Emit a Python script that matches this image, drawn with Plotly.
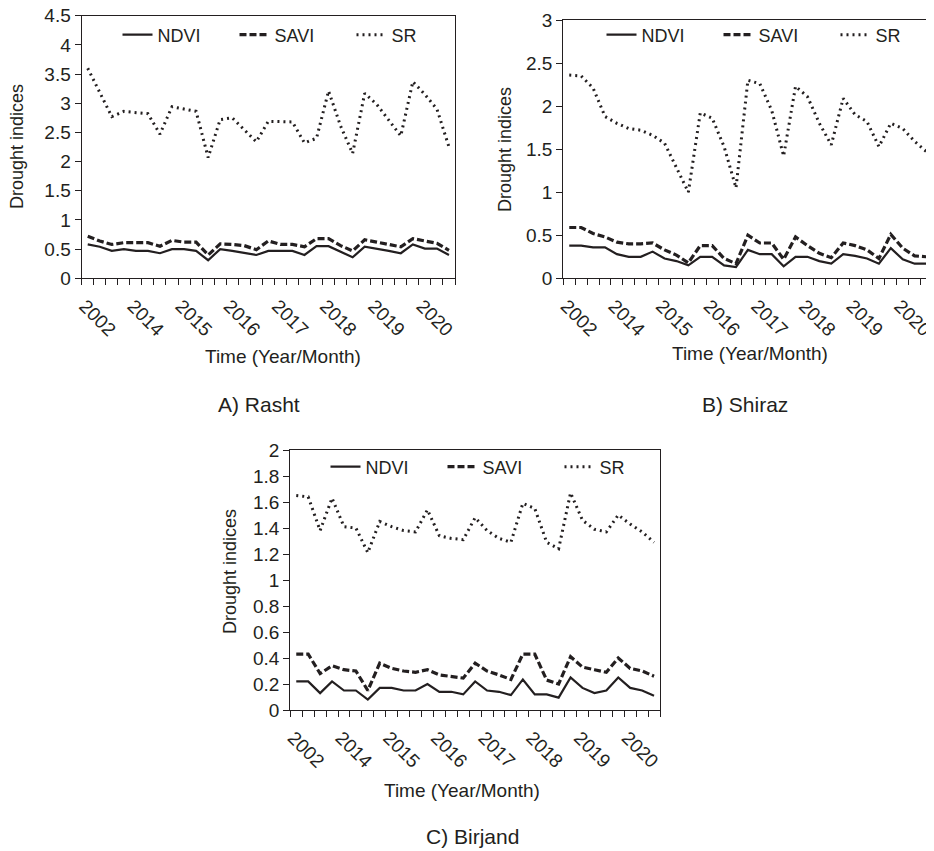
import plotly.graph_objects as go

# ---------------- data ----------------
year_labels = ["2002", "2014", "2015", "2016", "2017", "2018", "2019", "2020"]
label_positions = [0, 4, 8, 12, 16, 20, 24, 28]
time_index = list(range(31))

rasht_ndvi = [0.58, 0.54, 0.47, 0.50, 0.47, 0.47, 0.43, 0.50, 0.50, 0.47, 0.31,
              0.50, 0.47, 0.43, 0.40, 0.47, 0.47, 0.47, 0.40, 0.55, 0.55, 0.45,
              0.36, 0.54, 0.51, 0.47, 0.43, 0.58, 0.51, 0.51, 0.40]
rasht_savi = [0.72, 0.64, 0.58, 0.61, 0.61, 0.61, 0.55, 0.65, 0.62, 0.62, 0.40,
              0.59, 0.58, 0.56, 0.49, 0.64, 0.58, 0.58, 0.54, 0.68, 0.68, 0.56,
              0.47, 0.66, 0.62, 0.58, 0.54, 0.68, 0.64, 0.60, 0.48]
rasht_sr = [3.60, 3.19, 2.77, 2.86, 2.84, 2.82, 2.47, 2.94, 2.90, 2.86, 2.07,
            2.72, 2.75, 2.55, 2.34, 2.69, 2.68, 2.68, 2.32, 2.40, 3.21, 2.61,
            2.14, 3.17, 2.98, 2.72, 2.44, 3.37, 3.15, 2.90, 2.25]

shiraz_ndvi = [0.38, 0.38, 0.36, 0.36, 0.28, 0.25, 0.25, 0.31, 0.23, 0.20, 0.15,
               0.25, 0.25, 0.15, 0.13, 0.33, 0.28, 0.28, 0.14, 0.25, 0.25, 0.20,
               0.17, 0.28, 0.26, 0.23, 0.17, 0.35, 0.22, 0.17, 0.17]
shiraz_savi = [0.59, 0.59, 0.52, 0.48, 0.42, 0.40, 0.40, 0.41, 0.33, 0.27, 0.18,
               0.38, 0.38, 0.23, 0.17, 0.50, 0.41, 0.41, 0.22, 0.48, 0.38, 0.29,
               0.24, 0.41, 0.38, 0.33, 0.23, 0.51, 0.35, 0.26, 0.25]
shiraz_sr = [2.36, 2.35, 2.21, 1.88, 1.80, 1.74, 1.72, 1.66, 1.57, 1.29, 1.00,
             1.92, 1.86, 1.53, 1.05, 2.30, 2.26, 1.95, 1.42, 2.23, 2.11, 1.80,
             1.55, 2.09, 1.90, 1.82, 1.53, 1.80, 1.74, 1.59, 1.47]

birjand_ndvi = [0.22, 0.22, 0.13, 0.22, 0.15, 0.15, 0.08, 0.17, 0.17, 0.15, 0.15,
                0.20, 0.14, 0.14, 0.12, 0.22, 0.15, 0.14, 0.115, 0.235, 0.12, 0.12,
                0.095, 0.25, 0.17, 0.13, 0.15, 0.25, 0.17, 0.15, 0.11]
birjand_savi = [0.43, 0.43, 0.28, 0.34, 0.31, 0.30, 0.15, 0.36, 0.32, 0.30, 0.29,
                0.31, 0.27, 0.26, 0.245, 0.36, 0.30, 0.27, 0.235, 0.43, 0.43, 0.23,
                0.20, 0.41, 0.33, 0.31, 0.29, 0.40, 0.32, 0.30, 0.26]
birjand_sr = [1.65, 1.64, 1.38, 1.63, 1.41, 1.40, 1.21, 1.45, 1.41, 1.38, 1.37,
              1.54, 1.34, 1.32, 1.31, 1.48, 1.38, 1.32, 1.29, 1.59, 1.55, 1.29,
              1.24, 1.67, 1.46, 1.39, 1.37, 1.50, 1.43, 1.37, 1.29]

series_names = ["NDVI", "SAVI", "SR"]
captions = ["A) Rasht", "B) Shiraz", "C) Birjand"]
y_max = [4.5, 3, 2]
y_dtick = [0.5, 0.5, 0.2]

# ---------------- layout geometry (page px) ----------------
W, H = 934, 851
PAGE_OFFSET = 8  # default body margin of the html page
FONT = "Liberation Sans, Arial, sans-serif"
INK = "#231f20"

def fx(p):
    return (p - PAGE_OFFSET) / W

def fy(p):
    return 1 - (p - PAGE_OFFSET) / H

panels = [
    dict(data=[rasht_ndvi, rasht_savi, rasht_sr], x0=81.7, x1=455, yt=15.7, yb=278.3,
         leg=(293, 35), ytitle=(17, 147), xtitle=(283, 356), cap=(259, 405)),
    dict(data=[shiraz_ndvi, shiraz_savi, shiraz_sr], x0=563.3, x1=932.5, yt=20, yb=278.3,
         leg=(777, 35), ytitle=(505, 150), xtitle=(750, 353), cap=(745, 405)),
    dict(data=[birjand_ndvi, birjand_savi, birjand_sr], x0=290.3, x1=660, yt=450, yb=710,
         leg=(501, 467), ytitle=(230, 572), xtitle=(462, 790), cap=(472, 836)),
]

line_styles = [
    dict(color=INK, width=2.2, dash="solid"),
    dict(color=INK, width=3.2, dash="7px,3px"),
    dict(color=INK, width=3, dash="2px,4px"),
]

fig = go.Figure()
layout = dict(
    width=W, height=H,
    margin=dict(l=0, r=0, t=0, b=0, autoexpand=False),
    paper_bgcolor="white", plot_bgcolor="white",
    font=dict(family=FONT, color=INK, size=19),
    annotations=[],
)

for k, p in enumerate(panels):
    s = "" if k == 0 else str(k + 1)
    for j, name in enumerate(series_names):
        fig.add_trace(go.Scatter(
            x=time_index, y=p["data"][j], mode="lines", name=name,
            line=line_styles[j], xaxis="x" + s, yaxis="y" + s,
            legend="legend" + s, showlegend=True,
        ))
    layout["xaxis" + s] = dict(
        domain=[fx(p["x0"]), fx(p["x1"])], anchor="y" + s, automargin=False,
        range=[-0.5, 30.5], tickmode="array", tickvals=label_positions,
        ticktext=year_labels, tickangle=45, ticks="", ticklabelshift=-3,
        ticklabelstandoff=8, ticklabeloverflow="allow",
        tickfont=dict(size=19, color=INK),
        minor=dict(tickmode="linear", tick0=-0.5, dtick=1, ticks="outside",
                   ticklen=6, tickwidth=1.3, tickcolor=INK),
        showline=True, linecolor=INK, linewidth=1.3, mirror=True,
        showgrid=False, zeroline=False, fixedrange=True,
    )
    layout["yaxis" + s] = dict(
        domain=[fy(p["yb"]), fy(p["yt"])], anchor="x" + s, automargin=False,
        range=[0, y_max[k]], dtick=y_dtick[k], tick0=0,
        ticks="outside", ticklen=6, tickwidth=1.3, tickcolor=INK,
        ticklabeloverflow="allow",
        tickfont=dict(size=19, color=INK),
        showline=True, linecolor=INK, linewidth=1.3, mirror=True,
        showgrid=False, zeroline=False, fixedrange=True,
    )
    layout["legend" + s] = dict(
        orientation="h", x=fx(p["leg"][0]), xanchor="center",
        y=fy(p["leg"][1]), yanchor="middle", bgcolor="rgba(0,0,0,0)",
        font=dict(size=18, color=INK), entrywidthmode="pixels", entrywidth=72,
    )
    layout["annotations"] += [
        dict(text="Drought indices", x=fx(p["ytitle"][0]), y=fy(p["ytitle"][1]),
             xref="paper", yref="paper", showarrow=False, textangle=-90,
             font=dict(size=18, color=INK), xanchor="center", yanchor="middle"),
        dict(text="Time (Year/Month)", x=fx(p["xtitle"][0]), y=fy(p["xtitle"][1]),
             xref="paper", yref="paper", showarrow=False,
             font=dict(size=19, color=INK), xanchor="center", yanchor="middle"),
        dict(text=captions[k], x=fx(p["cap"][0]), y=fy(p["cap"][1]),
             xref="paper", yref="paper", showarrow=False,
             font=dict(size=21, color=INK), xanchor="center", yanchor="middle"),
    ]

fig.update_layout(**layout)
fig.write_html("out.html")
